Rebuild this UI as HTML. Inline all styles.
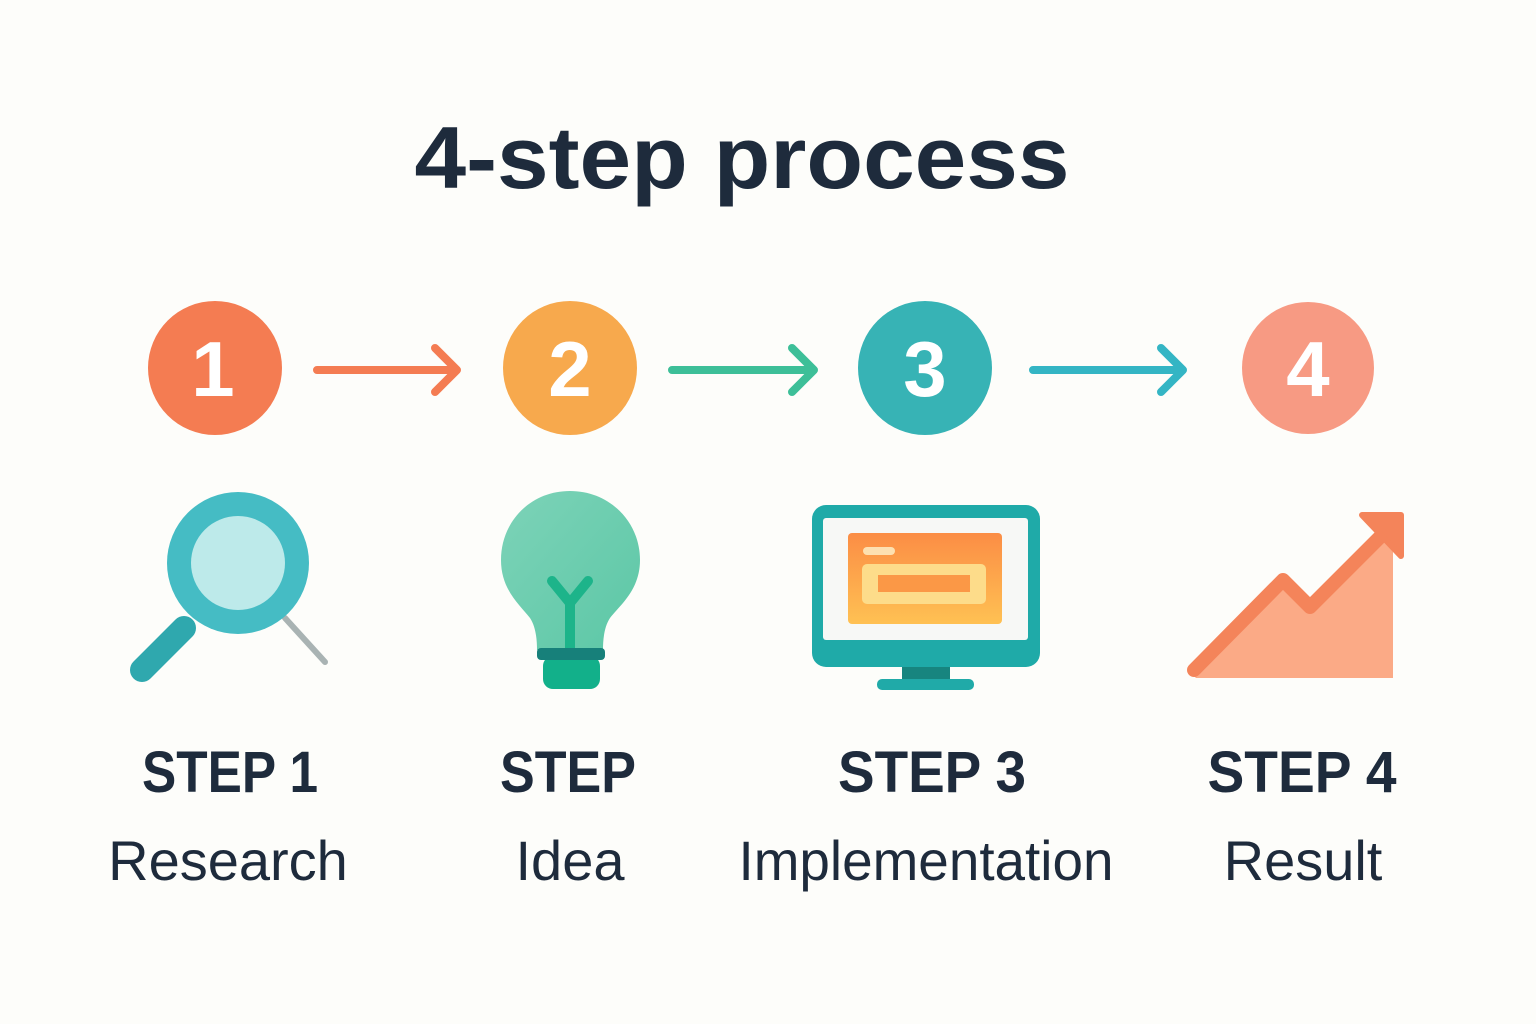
<!DOCTYPE html>
<html><head><meta charset="utf-8"><style>
html,body{margin:0;padding:0;background:#FDFDFA;}
svg{display:block}
text{font-family:"Liberation Sans",sans-serif;fill:#1E2B3C}
</style></head><body>
<svg width="1536" height="1024" viewBox="0 0 1536 1024" xmlns="http://www.w3.org/2000/svg">
<defs>
<linearGradient id="bulb" x1="0" y1="0" x2="1" y2="1"><stop offset="0" stop-color="#7DD3B8"/><stop offset="1" stop-color="#5CC7A6"/></linearGradient>
<linearGradient id="pan" x1="0" y1="0" x2="0" y2="1"><stop offset="0" stop-color="#FB8D45"/><stop offset="1" stop-color="#FFC153"/></linearGradient>
</defs>
<rect width="1536" height="1024" fill="#FDFDFA"/>
<text x="742" y="188" font-size="88" font-weight="bold" text-anchor="middle" textLength="655" lengthAdjust="spacingAndGlyphs">4-step process</text>

<circle cx="215" cy="368" r="67" fill="#F47C52"/>
<circle cx="570" cy="368" r="67" fill="#F7A94D"/>
<circle cx="925" cy="368" r="67" fill="#37B3B5"/>
<circle cx="1308" cy="368" r="66" fill="#F79A83"/>
<g font-size="78" font-weight="bold" text-anchor="middle">
<text x="213" y="396" style="fill:#fff">1</text>
<text x="570" y="396" style="fill:#fff">2</text>
<text x="925" y="396" style="fill:#fff">3</text>
<text x="1308" y="396" style="fill:#fff">4</text>
</g>

<g fill="none" stroke-width="8" stroke-linecap="round" stroke-linejoin="round">
<path d="M317 370H456M435 348L457 370L435 392" stroke="#F47C52"/>
<path d="M672 370H814M792 348L814 370L792 392" stroke="#3DBF98"/>
<path d="M1033 370H1183M1161 348L1183 370L1161 392" stroke="#34B5C4"/>
</g>

<line x1="285" y1="618" x2="325" y2="662" stroke="#A9B3B3" stroke-width="6" stroke-linecap="round"/>
<line x1="142" y1="670" x2="184" y2="628" stroke="#2FA8AE" stroke-width="24" stroke-linecap="round"/>
<circle cx="238" cy="563" r="71" fill="#45BCC4"/>
<circle cx="238" cy="563" r="47" fill="#BDEAEA"/>

<path d="M570 491C610 491 640 522 640 560C640 590 620 605 610 618C604 627 603 640 603 650H537C537 640 536 627 530 618C520 605 501 590 501 560C501 522 530 491 570 491Z" fill="url(#bulb)"/>
<path d="M552 581L570 603L588 581M570 603V650" fill="none" stroke="#1DB48A" stroke-width="10" stroke-linecap="round" stroke-linejoin="round"/>
<rect x="543" y="656" width="57" height="33" rx="10" fill="#12B08A"/>
<rect x="537" y="648" width="68" height="12" rx="4" fill="#17807A"/>

<rect x="902" y="664" width="48" height="16" fill="#17857F"/>
<rect x="877" y="679" width="97" height="11" rx="5" fill="#20AAA8"/>
<rect x="812" y="505" width="228" height="162" rx="14" fill="#1FAAA8"/>
<rect x="823" y="518" width="205" height="122" rx="3" fill="#F7F8F6"/>
<rect x="848" y="533" width="154" height="91" rx="4" fill="url(#pan)"/>
<rect x="863" y="547" width="32" height="8" rx="4" fill="#FDE0B0"/>
<rect x="862" y="564" width="124" height="40" rx="5" fill="#FDDC8A"/>
<rect x="878" y="575" width="92" height="17" fill="#FB9846"/>

<path d="M1190 672L1283 580L1310 607L1393 525V678H1196Z" fill="#FBAA86"/>
<path d="M1194 670L1283 580L1310 607L1392 525" fill="none" stroke="#F4845A" stroke-width="14" stroke-linejoin="round" stroke-linecap="round"/>
<path d="M1362 515H1401V556Z" fill="#F4845A" stroke="#F4845A" stroke-width="6" stroke-linejoin="round"/>

<g font-weight="bold" font-size="58" text-anchor="middle">
<text x="230" y="792" textLength="176" lengthAdjust="spacingAndGlyphs">STEP 1</text>
<text x="568" y="792" textLength="136" lengthAdjust="spacingAndGlyphs">STEP</text>
<text x="932" y="792" textLength="188" lengthAdjust="spacingAndGlyphs">STEP 3</text>
<text x="1302" y="792" textLength="189" lengthAdjust="spacingAndGlyphs">STEP 4</text>
</g>
<g font-size="56" text-anchor="middle">
<text x="228" y="880">Research</text>
<text x="570" y="880">Idea</text>
<text x="926" y="880" textLength="375" lengthAdjust="spacingAndGlyphs">Implementation</text>
<text x="1303" y="880">Result</text>
</g>
</svg>
</body></html>
